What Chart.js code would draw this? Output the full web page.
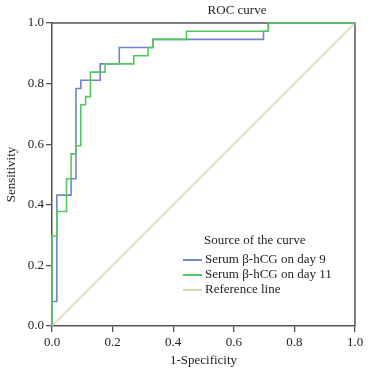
<!DOCTYPE html>
<html>
<head>
<meta charset="utf-8">
<script src="https://cdn.jsdelivr.net/npm/chart.js@4.4.1/dist/chart.umd.min.js"></script>
<style>
  html, body { margin: 0; padding: 0; background: #fff; }
  canvas { display: block; }
</style>
</head>
<body>
<canvas id="roc" width="370" height="375"></canvas>
<script>
// step vertices of each ROC curve
const day9FPR = [0, 0, 0.016, 0.016, 0.063, 0.063, 0.079, 0.079, 0.095, 0.095, 0.159, 0.159, 0.222, 0.222, 0.333, 0.333, 0.698, 0.698, 0.714, 0.714, 1];
const day9TPR = [0, 0.081, 0.081, 0.432, 0.432, 0.486, 0.486, 0.784, 0.784, 0.811, 0.811, 0.865, 0.865, 0.919, 0.919, 0.946, 0.946, 0.973, 0.973, 1, 1];
const day11FPR = [0, 0, 0.016, 0.016, 0.048, 0.048, 0.063, 0.063, 0.079, 0.079, 0.095, 0.095, 0.111, 0.111, 0.127, 0.127, 0.175, 0.175, 0.270, 0.270, 0.317, 0.317, 0.333, 0.333, 0.444, 0.444, 0.714, 0.714, 1];
const day11TPR = [0, 0.297, 0.297, 0.378, 0.378, 0.486, 0.486, 0.568, 0.568, 0.595, 0.595, 0.730, 0.730, 0.757, 0.757, 0.838, 0.838, 0.865, 0.865, 0.892, 0.892, 0.919, 0.919, 0.946, 0.946, 0.973, 0.973, 1, 1];
const refX = [0, 1];
const refY = [0, 1];
const seriesLabels = ["Serum \u03b2-hCG on day 9", "Serum \u03b2-hCG on day 11", "Reference line"];
const tickValues = [0, 0.2, 0.4, 0.6, 0.8, 1.0];

const FONT = "'Liberation Serif', 'Times New Roman', serif";
const TEXT = "#1e1e1e";
const AXIS = "#555555";

function pts(xs, ys) {
    return xs.map((x, i) => ({ x: x, y: ys[i] }));
}

// title, frame and the legend inside the plot
const decorations = {
    id: "decorations",
    beforeDatasetsDraw(chart) {
        const { ctx, chartArea: a } = chart;
        ctx.save();
        ctx.strokeStyle = AXIS;
        ctx.lineWidth = 1.5;
        ctx.beginPath();
        ctx.moveTo(a.left, a.top);
        ctx.lineTo(a.right, a.top);
        ctx.lineTo(a.right, a.bottom);
        ctx.stroke();
        ctx.restore();
    },
    afterDraw(chart) {
        const { ctx } = chart;
        ctx.save();
        ctx.fillStyle = TEXT;
        ctx.font = "13px " + FONT;
        ctx.textBaseline = "middle";
        ctx.textAlign = "center";
        ctx.fillText("ROC curve", 237, 11);

        ctx.textAlign = "left";
        ctx.fillText("Source of the curve", 204, 241);
        chart.data.datasets.forEach((ds, i) => {
            const y = 260 + i * 15;
            ctx.strokeStyle = ds.borderColor;
            ctx.lineWidth = 2;
            ctx.beginPath();
            ctx.moveTo(183, y);
            ctx.lineTo(202, y);
            ctx.stroke();
            ctx.fillText(ds.label, 205, y);
        });
        ctx.restore();
    }
};

const tickOpts = {
    font: { family: FONT, size: 13 },
    color: TEXT,
    stepSize: 0.2,
    callback: (v) => v.toFixed(1)
};

new Chart(document.getElementById("roc"), {
    type: "scatter",
    data: {
        datasets: [
            {
                label: seriesLabels[0],
                data: pts(day9FPR, day9TPR),
                borderColor: "#7185cb",
                order: 1
            },
            {
                label: seriesLabels[1],
                data: pts(day11FPR, day11TPR),
                borderColor: "#55c760",
                order: 0
            },
            {
                label: seriesLabels[2],
                data: pts(refX, refY),
                borderColor: "#ddd8aa",
                order: 2
            }
        ]
    },
    options: {
        responsive: false,
        animation: false,
        devicePixelRatio: 1,
        layout: { padding: { top: 23, right: 15, left: 0, bottom: 0 } },
        elements: {
            point: { radius: 0, hoverRadius: 0 },
            line: { borderWidth: 1.6, tension: 0, fill: false }
        },
        datasets: { scatter: { showLine: true, clip: 3 } },
        plugins: {
            legend: { display: false },
            tooltip: { enabled: false },
            title: { display: false }
        },
        scales: {
            x: {
                type: "linear",
                min: 0,
                max: 1,
                afterBuildTicks: (s) => { s.ticks = tickValues.map((v) => ({ value: v })); },
                afterFit: (s) => { s.height = 49; },
                ticks: Object.assign({ padding: 3, maxRotation: 0 }, tickOpts),
                grid: { drawOnChartArea: false, drawTicks: true, tickLength: 6, color: AXIS, lineWidth: 1.3 },
                border: { display: true, color: AXIS, width: 1.5 },
                title: {
                    display: true,
                    text: "1-Specificity",
                    color: TEXT,
                    font: { family: FONT, size: 13 },
                    padding: { top: 4, bottom: 7 }
                }
            },
            y: {
                type: "linear",
                min: 0,
                max: 1,
                afterBuildTicks: (s) => { s.ticks = tickValues.map((v) => ({ value: v })); },
                afterFit: (s) => { s.width = 52; },
                ticks: Object.assign({ padding: 2 }, tickOpts),
                grid: { drawOnChartArea: false, drawTicks: true, tickLength: 6, color: AXIS, lineWidth: 1.3 },
                border: { display: true, color: AXIS, width: 1.5 },
                title: {
                    display: true,
                    text: "Sensitivity",
                    color: TEXT,
                    font: { family: FONT, size: 13 },
                    padding: { top: 4, bottom: 4 }
                }
            }
        }
    },
    plugins: [decorations]
});
</script>
</body>
</html>
